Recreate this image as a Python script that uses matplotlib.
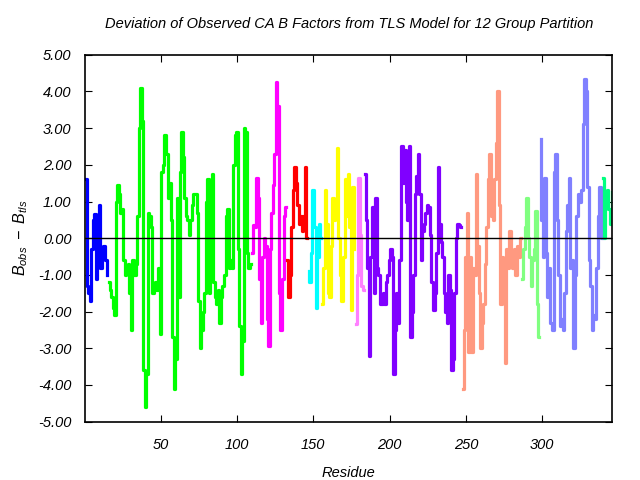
import matplotlib.pyplot as plt
import numpy as np

plt.rcParams['font.family'] = 'Liberation Sans'
plt.rcParams['font.style'] = 'italic'
plt.rcParams['mathtext.fontset'] = 'custom'
plt.rcParams['mathtext.it'] = 'Liberation Sans:italic'
plt.rcParams['mathtext.rm'] = 'Liberation Sans:italic'
plt.rcParams['mathtext.default'] = 'it'

# TLS groups: (first residue, colour, deviations)
blue_vals = [1.6, -1.3, -1.5, -1.7, -0.3, 0.5, 0.65, -1.1, -0.5, 0.9, -0.8, -0.4, -0.2, -0.6, -1.0]
green_vals = [-1.2, -1.4, -1.6, -1.9, -2.1, 1.0, 1.45, 1.2, 0.7, 0.8, -0.6, -1.0, -0.8, -0.7, -1.5,
              -2.5, -0.6, -1.0, -0.7, 0.6, 3.0, 4.1, 3.2, -3.6, -4.6, -3.7, 0.7, 0.6, 0.3, -1.5,
              -1.4, -1.2, -1.4, -0.8, -2.6, 1.8, 2.0, 2.8, 2.3, 1.1, 1.5, 0.5, -2.7, -4.1, -3.3,
              1.1, -1.6, 1.8, 2.9, 2.2, 1.1, 0.6, 0.5, 0.1, 0.5, 0.9, 1.2, 1.2, 0.7, -1.7,
              -3.0, -2.5, -2.0, -1.5, 1.0, 1.6, -1.5, 0.5, 1.75, -1.2, -1.6, -1.8, -1.4, -2.3, -1.6,
              -1.3, -1.0, 0.6, 0.8, -0.8, -0.6, -0.8, 2.0, 2.8, 2.9, -0.3, -2.4, -3.7, -2.8,
              3.0, 2.9, -0.4, -0.8, -0.7]
magenta_vals = [-0.4, 0.35, 0.3, 1.65, 1.1, -1.1, -2.3, -0.5, 0.0, -0.2, -2.2, -2.95, -0.3, 0.7,
                1.45, 2.3, 4.25, 3.6, -1.5, -2.5, -1.1, 0.6, 0.85]
red_vals = [-0.6, -1.6, -1.0, 0.3, 1.3, 1.95, 1.5, 0.9, 0.4, 0.6, 0.2, 0.6, 1.95, 0.0]
cyan_vals = [-0.9, -1.2, -0.4, 1.3, 0.3, -1.9, -0.5, 0.4, 0.0]
yellow_vals = [-1.8, -0.8, 1.3, 0.4, -1.5, -1.6, -0.2, 1.1, 0.5, 0.8, 2.45, 0.0, -1.0, -1.7,
               -0.5, 1.6, 0.6, 1.75, 0.3, -1.95, 1.4, -0.3]
pink_vals = [-2.35, -1.0, 1.65, 0.1, -1.3, -1.4]
purple_vals = [1.75, 0.5, -0.8, -3.2, -0.5, 0.85, -1.5, 1.1, -0.8, -1.0, -1.8, -1.8, -1.5, -1.8,
               -1.2, -1.0, -0.6, -0.3, -0.5, -3.7, -2.5, -1.5, -2.3, -0.6, 2.5, 1.5, 2.4, 1.0,
               0.5, 2.5, -2.7, -2.0, -1.0, 1.2, 1.7, 2.3, 1.2, -0.6, 0.2, 0.4, 0.7, 0.9, 0.85,
               0.1, -1.2, -1.95, -1.5, -0.4, 1.95, 0.4, -0.1, -0.5, -1.5, -2.0, -2.3, -1.0, -1.4,
               -3.6, -3.3, -1.5, 0.0, 0.4, 0.35, 0.3]
salmon_vals = [-4.1, -2.5, -0.5, 0.7, -3.1, -0.5, -3.1, -0.8, -1.0, 1.75, -0.2, -1.5, -3.0, -2.3,
               -1.8, -0.7, 0.3, 1.6, 2.3, 0.6, 0.5, 1.6, 2.6, 4.0, 0.9, -1.8, -0.5, -1.5, -3.4,
               -0.3, -0.8, 0.2, -0.4, -0.8, -0.3, -1.0, -0.2, -0.5, 0.0]
lgreen_vals = [-1.1, -0.3, 0.3, 1.1, 0.0, -0.5, -1.3, -0.6, -0.3, 0.75, -1.8, -2.7]
lblue_vals = [2.7, 0.5, -0.5, 1.65, -0.4, -1.6, -0.8, -2.3, -2.5, 1.8, 2.3, 0.5, -1.0, -2.4,
              -2.2, -2.5, -1.5, 0.2, 0.9, 1.65, -0.8, -0.6, -3.0, -1.0, 0.6, 1.2, 1.0, 1.3, 3.1,
              4.35, 4.0, 1.4, -0.6, -1.3, -2.5, -2.1, -2.2, -0.8, 0.6, 1.4, 0.0]
sgreen_vals = [1.65, 0.0, 0.9, 1.3, 0.8, 0.4, 1.25]

groups = [
    (1, '#0000ff', blue_vals),
    (16, '#00ff00', green_vals),
    (110, '#ff00ff', magenta_vals),
    (133, '#ff0000', red_vals),
    (147, '#00ffff', cyan_vals),
    (156, '#ffff00', yellow_vals),
    (178, '#ff80ff', pink_vals),
    (184, '#8000ff', purple_vals),
    (248, '#ff9980', salmon_vals),
    (287, '#80ff80', lgreen_vals),
    (299, '#8080ff', lblue_vals),
    (340, '#00ff80', sgreen_vals),
]

fig = plt.figure(figsize=(6.4, 4.8), dpi=100)
ax = fig.add_axes([0.1333, 0.1215, 0.8234, 0.7645])

for start, col, vals in groups:
    res = np.arange(start, start + len(vals))
    ax.plot(res, vals, drawstyle='steps-mid', color=col, linewidth=2.3)

ax.axhline(0, color='black', linewidth=1)

ax.set_xlim(0.6, 346)
ax.set_ylim(-5, 5)
ax.set_xticks([50, 100, 150, 200, 250, 300])
ax.set_yticks(np.arange(-5, 5.01, 1))
ax.set_yticklabels(['%.2f' % v for v in np.arange(-5, 5.01, 1)])
ax.tick_params(direction='in', top=True, right=True, length=5, labelsize=10.5)
ax.tick_params(axis='x', pad=12)
ax.tick_params(axis='y', pad=10)
for s in ax.spines.values():
    s.set_linewidth(1.2)

ax.set_title('Deviation of Observed CA B Factors from TLS Model for 12 Group Partition',
             fontsize=10.5, pad=19)
ax.set_xlabel('Residue', fontsize=10.5, labelpad=10)
ax.set_ylabel(r'$B_{obs}\ -\ B_{tls}$', fontsize=11.5, labelpad=6)

plt.savefig('out.png', dpi=100)
